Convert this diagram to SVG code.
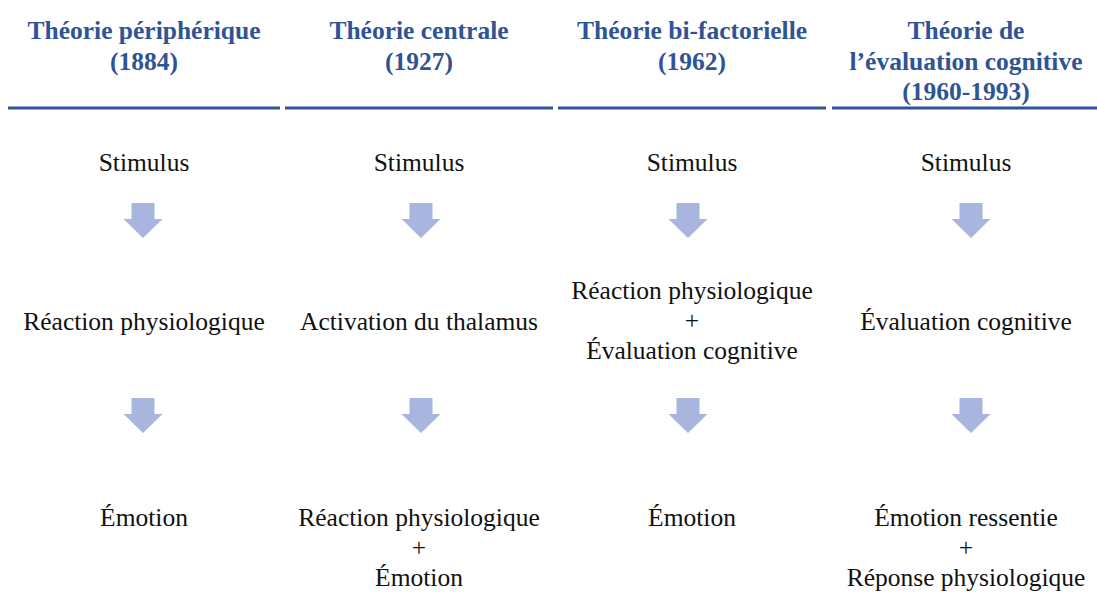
<svg xmlns="http://www.w3.org/2000/svg" xmlns:xlink="http://www.w3.org/1999/xlink" width="1097" height="592" viewBox="0 0 1097 592">
<style>
.hd{font-family:'Liberation Serif','DejaVu Serif',serif;font-weight:bold;font-size:25.5px;fill:#2F5496;text-anchor:middle}
.tx{font-family:'Liberation Serif','DejaVu Serif',serif;font-size:25.5px;fill:#111111;text-anchor:middle}
.rule{stroke:#2F5496;stroke-width:3;fill:none}
.arr{fill:#A8B6DF}
</style>
<defs>
<polygon id="blockArrow" class="arr" points="-11.5,0 11.5,0 11.5,16 19.5,16 0,35 -19.5,16 -11.5,16"/>
</defs>
<rect width="1097" height="592" fill="#ffffff"/>

<g id="headers">
  <g id="h1">
    <text class="hd" x="144" y="39">Théorie périphérique</text>
    <text class="hd" x="144" y="70">(1884)</text>
  </g>
  <g id="h2">
    <text class="hd" x="419" y="39">Théorie centrale</text>
    <text class="hd" x="419" y="70">(1927)</text>
  </g>
  <g id="h3">
    <text class="hd" x="692" y="39">Théorie bi-factorielle</text>
    <text class="hd" x="692" y="70">(1962)</text>
  </g>
  <g id="h4">
    <text class="hd" x="966" y="39">Théorie de</text>
    <text class="hd" x="966" y="70">l’évaluation cognitive</text>
    <text class="hd" x="966" y="100">(1960-1993)</text>
  </g>
  <g id="rules">
    <line class="rule" x1="8" y1="108" x2="280" y2="108"/>
    <line class="rule" x1="285" y1="108" x2="553" y2="108"/>
    <line class="rule" x1="558" y1="108" x2="826" y2="108"/>
    <line class="rule" x1="832" y1="108" x2="1097" y2="108"/>
  </g>
</g>

<g id="col1-stimulus"><text class="tx" x="144" y="171">Stimulus</text></g>
<g id="col1-reaction"><text class="tx" x="144" y="330">Réaction physiologique</text></g>
<g id="col1-emotion"><text class="tx" x="144" y="526">Émotion</text></g>

<g id="col2-stimulus"><text class="tx" x="419" y="171">Stimulus</text></g>
<g id="col2-thalamus"><text class="tx" x="419" y="330">Activation du thalamus</text></g>
<g id="col2-result">
  <text class="tx" x="419" y="526">Réaction physiologique</text>
  <text class="tx" x="419" y="556">+</text>
  <text class="tx" x="419" y="586">Émotion</text>
</g>

<g id="col3-stimulus"><text class="tx" x="692" y="171">Stimulus</text></g>
<g id="col3-combo">
  <text class="tx" x="692" y="299">Réaction physiologique</text>
  <text class="tx" x="692" y="329">+</text>
  <text class="tx" x="692" y="359">Évaluation cognitive</text>
</g>
<g id="col3-emotion"><text class="tx" x="692" y="526">Émotion</text></g>

<g id="col4-stimulus"><text class="tx" x="966" y="171">Stimulus</text></g>
<g id="col4-evaluation"><text class="tx" x="966" y="330">Évaluation cognitive</text></g>
<g id="col4-result">
  <text class="tx" x="966" y="526">Émotion ressentie</text>
  <text class="tx" x="966" y="556">+</text>
  <text class="tx" x="966" y="586">Réponse physiologique</text>
</g>

<g id="connectors">
  <use xlink:href="#blockArrow" href="#blockArrow" x="143" y="203"/>
  <use xlink:href="#blockArrow" href="#blockArrow" x="143" y="398"/>
  <use xlink:href="#blockArrow" href="#blockArrow" x="421" y="203"/>
  <use xlink:href="#blockArrow" href="#blockArrow" x="421" y="398"/>
  <use xlink:href="#blockArrow" href="#blockArrow" x="688" y="203"/>
  <use xlink:href="#blockArrow" href="#blockArrow" x="688" y="398"/>
  <use xlink:href="#blockArrow" href="#blockArrow" x="971" y="203"/>
  <use xlink:href="#blockArrow" href="#blockArrow" x="971" y="398"/>
</g>
</svg>
